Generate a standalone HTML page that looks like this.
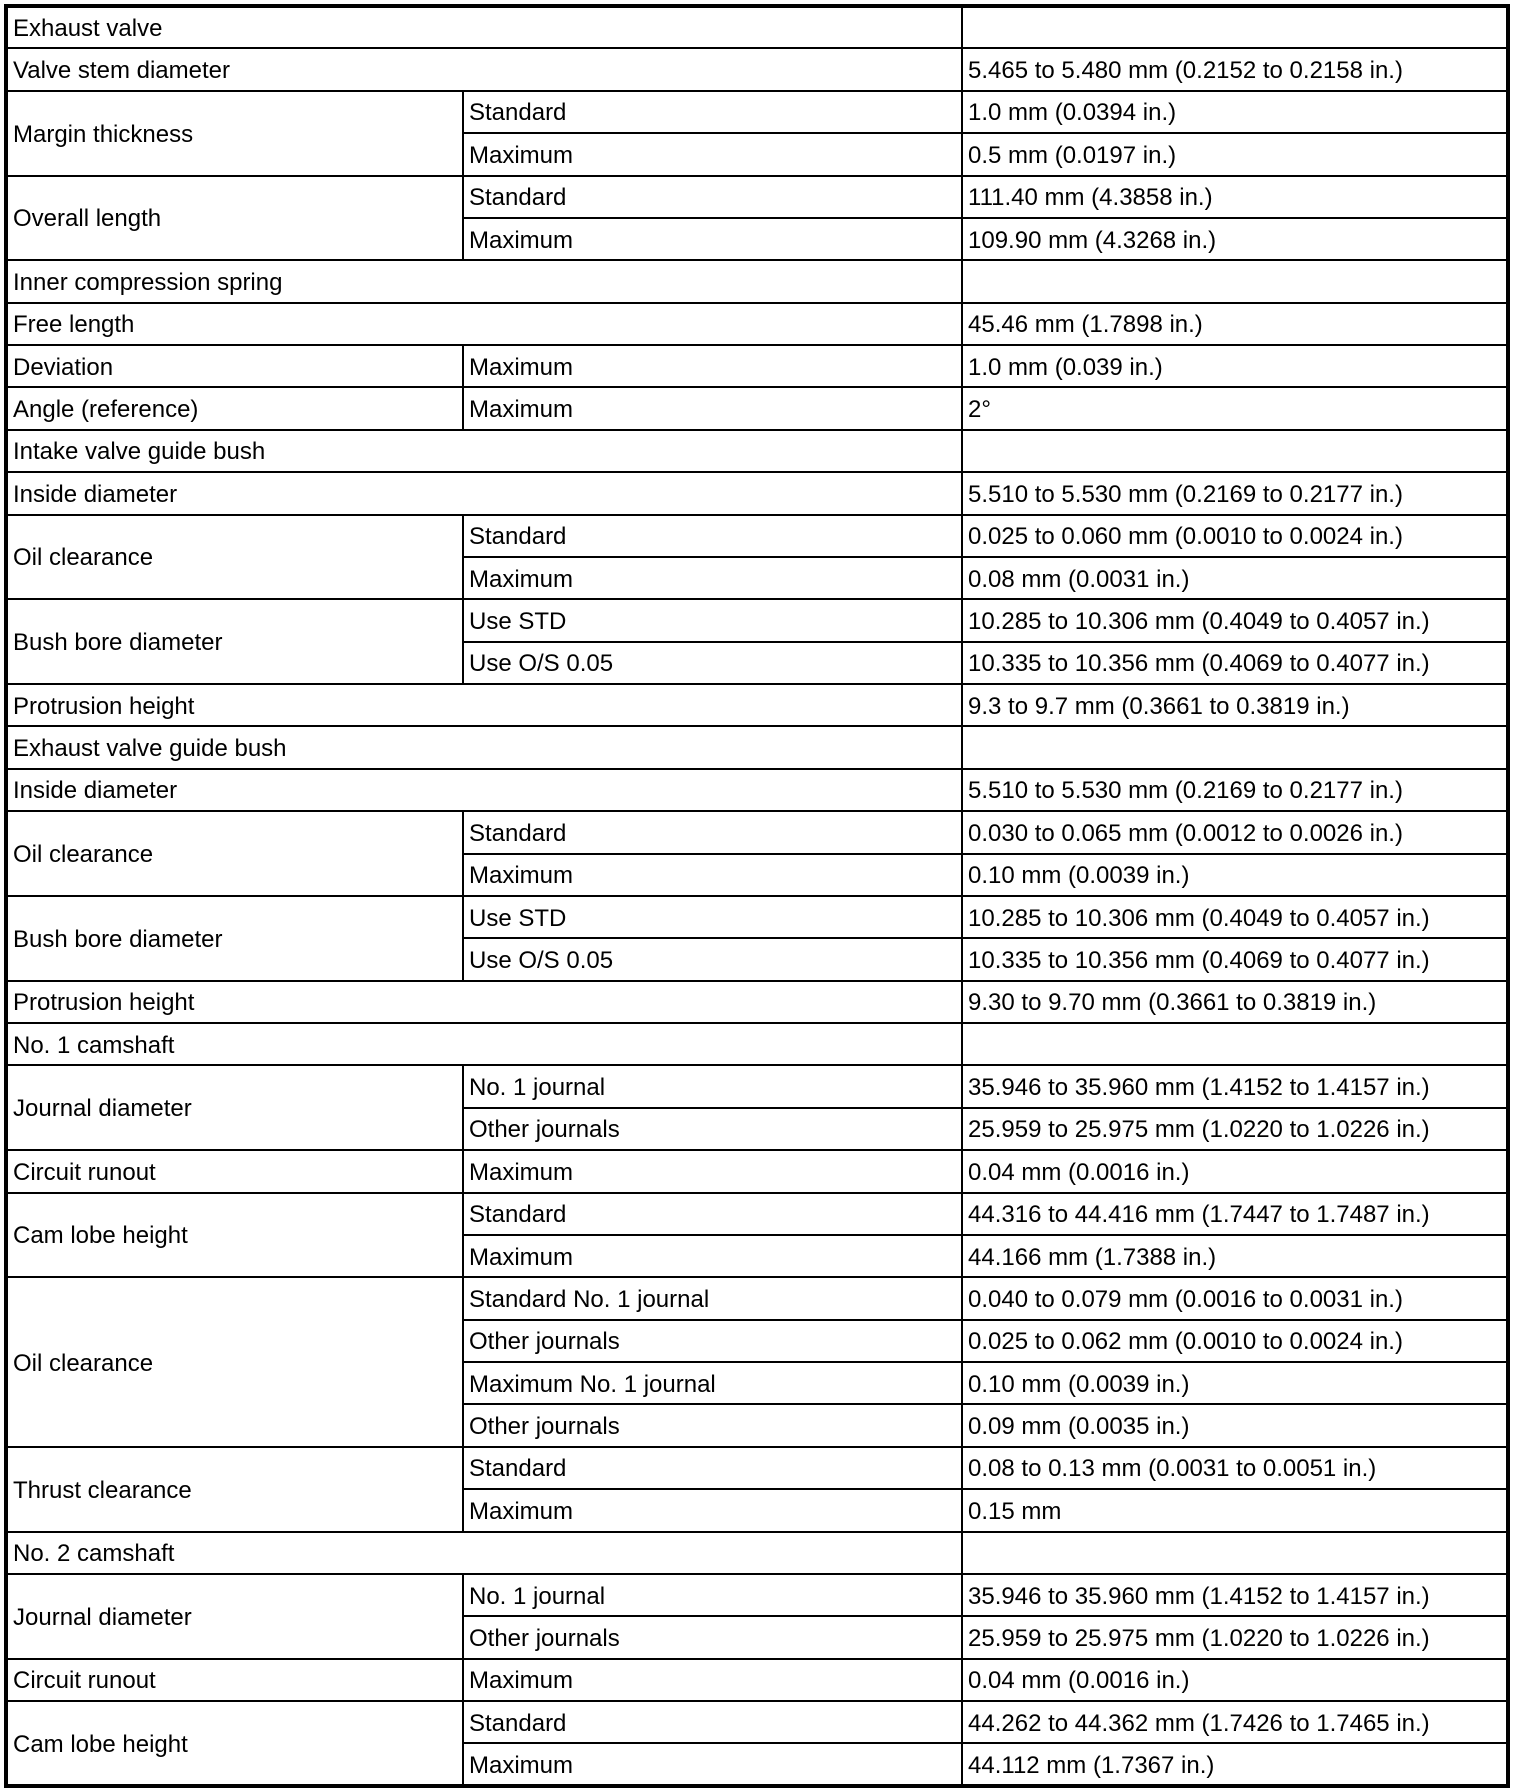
<!DOCTYPE html>
<html><head><meta charset="utf-8"><style>
html,body{margin:0;padding:0;background:#fff;width:1520px;height:1792px;overflow:hidden}
table{position:absolute;left:4px;top:4px;width:1506px;height:1784px;border-collapse:collapse;table-layout:fixed;border:4px solid #000;
font-family:"Liberation Sans",Arial,sans-serif;font-size:24px;color:#000}
td{border:2px solid #000;padding:3px 0 0 5px;white-space:nowrap;overflow:hidden;vertical-align:middle;line-height:1}
tr{height:42.3px}
</style></head><body>
<table>
<colgroup><col style="width:457px"><col style="width:499px"><col></colgroup>
<tr><td colspan="2">Exhaust valve</td><td></td></tr>
<tr><td colspan="2">Valve stem diameter</td><td>5.465 to 5.480 mm (0.2152 to 0.2158 in.)</td></tr>
<tr><td rowspan="2">Margin thickness</td><td>Standard</td><td>1.0 mm (0.0394 in.)</td></tr>
<tr><td>Maximum</td><td>0.5 mm (0.0197 in.)</td></tr>
<tr><td rowspan="2">Overall length</td><td>Standard</td><td>111.40 mm (4.3858 in.)</td></tr>
<tr><td>Maximum</td><td>109.90 mm (4.3268 in.)</td></tr>
<tr><td colspan="2">Inner compression spring</td><td></td></tr>
<tr><td colspan="2">Free length</td><td>45.46 mm (1.7898 in.)</td></tr>
<tr><td>Deviation</td><td>Maximum</td><td>1.0 mm (0.039 in.)</td></tr>
<tr><td>Angle (reference)</td><td>Maximum</td><td>2°</td></tr>
<tr><td colspan="2">Intake valve guide bush</td><td></td></tr>
<tr><td colspan="2">Inside diameter</td><td>5.510 to 5.530 mm (0.2169 to 0.2177 in.)</td></tr>
<tr><td rowspan="2">Oil clearance</td><td>Standard</td><td>0.025 to 0.060 mm (0.0010 to 0.0024 in.)</td></tr>
<tr><td>Maximum</td><td>0.08 mm (0.0031 in.)</td></tr>
<tr><td rowspan="2">Bush bore diameter</td><td>Use STD</td><td>10.285 to 10.306 mm (0.4049 to 0.4057 in.)</td></tr>
<tr><td>Use O/S 0.05</td><td>10.335 to 10.356 mm (0.4069 to 0.4077 in.)</td></tr>
<tr><td colspan="2">Protrusion height</td><td>9.3 to 9.7 mm (0.3661 to 0.3819 in.)</td></tr>
<tr><td colspan="2">Exhaust valve guide bush</td><td></td></tr>
<tr><td colspan="2">Inside diameter</td><td>5.510 to 5.530 mm (0.2169 to 0.2177 in.)</td></tr>
<tr><td rowspan="2">Oil clearance</td><td>Standard</td><td>0.030 to 0.065 mm (0.0012 to 0.0026 in.)</td></tr>
<tr><td>Maximum</td><td>0.10 mm (0.0039 in.)</td></tr>
<tr><td rowspan="2">Bush bore diameter</td><td>Use STD</td><td>10.285 to 10.306 mm (0.4049 to 0.4057 in.)</td></tr>
<tr><td>Use O/S 0.05</td><td>10.335 to 10.356 mm (0.4069 to 0.4077 in.)</td></tr>
<tr><td colspan="2">Protrusion height</td><td>9.30 to 9.70 mm (0.3661 to 0.3819 in.)</td></tr>
<tr><td colspan="2">No. 1 camshaft</td><td></td></tr>
<tr><td rowspan="2">Journal diameter</td><td>No. 1 journal</td><td>35.946 to 35.960 mm (1.4152 to 1.4157 in.)</td></tr>
<tr><td>Other journals</td><td>25.959 to 25.975 mm (1.0220 to 1.0226 in.)</td></tr>
<tr><td>Circuit runout</td><td>Maximum</td><td>0.04 mm (0.0016 in.)</td></tr>
<tr><td rowspan="2">Cam lobe height</td><td>Standard</td><td>44.316 to 44.416 mm (1.7447 to 1.7487 in.)</td></tr>
<tr><td>Maximum</td><td>44.166 mm (1.7388 in.)</td></tr>
<tr><td rowspan="4">Oil clearance</td><td>Standard No. 1 journal</td><td>0.040 to 0.079 mm (0.0016 to 0.0031 in.)</td></tr>
<tr><td>Other journals</td><td>0.025 to 0.062 mm (0.0010 to 0.0024 in.)</td></tr>
<tr><td>Maximum No. 1 journal</td><td>0.10 mm (0.0039 in.)</td></tr>
<tr><td>Other journals</td><td>0.09 mm (0.0035 in.)</td></tr>
<tr><td rowspan="2">Thrust clearance</td><td>Standard</td><td>0.08 to 0.13 mm (0.0031 to 0.0051 in.)</td></tr>
<tr><td>Maximum</td><td>0.15 mm</td></tr>
<tr><td colspan="2">No. 2 camshaft</td><td></td></tr>
<tr><td rowspan="2">Journal diameter</td><td>No. 1 journal</td><td>35.946 to 35.960 mm (1.4152 to 1.4157 in.)</td></tr>
<tr><td>Other journals</td><td>25.959 to 25.975 mm (1.0220 to 1.0226 in.)</td></tr>
<tr><td>Circuit runout</td><td>Maximum</td><td>0.04 mm (0.0016 in.)</td></tr>
<tr><td rowspan="2">Cam lobe height</td><td>Standard</td><td>44.262 to 44.362 mm (1.7426 to 1.7465 in.)</td></tr>
<tr><td>Maximum</td><td>44.112 mm (1.7367 in.)</td></tr>
</table>
</body></html>
